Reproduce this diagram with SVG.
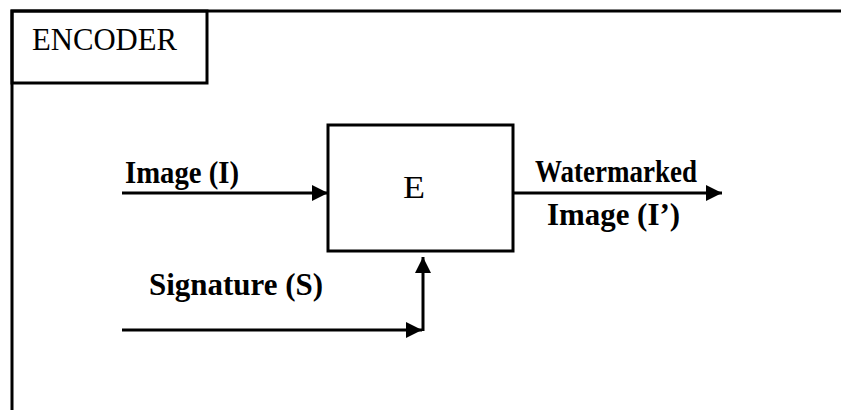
<svg xmlns="http://www.w3.org/2000/svg" width="841" height="410" viewBox="0 0 841 410">
  <style>
    .frame { fill: none; stroke: #000; stroke-width: 3; }
    .wire { fill: none; stroke: #000; stroke-width: 3; }
    .lbl { font-family: "Liberation Serif", "Times New Roman", serif; font-weight: bold; font-size: 31px; fill: #000; }
    .title { font-family: "Liberation Serif", "Times New Roman", serif; font-size: 32px; fill: #000; }
  </style>
  <defs>
    <marker id="arrow" viewBox="0 0 16 16" refX="16" refY="8" markerWidth="16" markerHeight="16" markerUnits="userSpaceOnUse" orient="auto">
      <path d="M0,0 L16,8 L0,16 Z" fill="#000"/>
    </marker>
  </defs>
  <rect width="841" height="410" fill="#fff"/>

  <!-- outer frame: left and top edges -->
  <path class="frame" d="M12,410 L12,11 L841,11"/>

  <g id="encoder-title">
    <rect class="frame" x="12" y="11" width="195" height="72"/>
    <text class="title" x="32" y="50" textLength="145" lengthAdjust="spacingAndGlyphs">ENCODER</text>
  </g>

  <g id="e-block">
    <rect class="frame" x="328" y="125" width="185" height="126"/>
    <text class="title" x="403" y="198" font-size="39" textLength="22" lengthAdjust="spacingAndGlyphs">E</text>
  </g>

  <g id="connectors">
    <line class="wire" x1="122" y1="193" x2="328" y2="193" marker-end="url(#arrow)"/>
    <line class="wire" x1="513" y1="193" x2="722" y2="193" marker-end="url(#arrow)"/>
    <line class="wire" x1="122" y1="330" x2="422" y2="330" marker-end="url(#arrow)"/>
    <line class="wire" x1="423" y1="331" x2="423" y2="257" marker-end="url(#arrow)"/>
  </g>

  <g id="labels">
    <text class="lbl" x="125" y="183" textLength="114" lengthAdjust="spacingAndGlyphs">Image (I)</text>
    <text class="lbl" x="535" y="182" font-size="30" textLength="162" lengthAdjust="spacingAndGlyphs">Watermarked</text>
    <text class="lbl" x="547" y="225" font-size="30" textLength="133" lengthAdjust="spacingAndGlyphs">Image (I’)</text>
    <text class="lbl" x="149" y="295" textLength="174" lengthAdjust="spacingAndGlyphs">Signature (S)</text>
  </g>
</svg>
